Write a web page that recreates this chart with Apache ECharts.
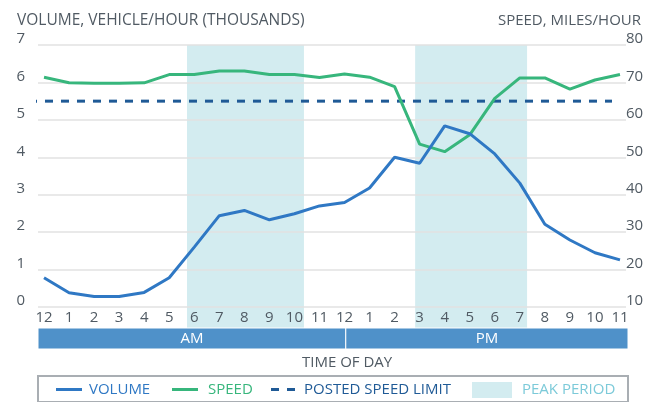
<!DOCTYPE html>
<html>
<head>
<meta charset="utf-8">
<script src="https://cdn.jsdelivr.net/npm/echarts@6/dist/echarts.min.js"></script>
<style>
  html, body { margin: 0; padding: 0; background: #fff; }
  #chart { width: 653px; height: 402px; }
</style>
</head>
<body>
<div id="chart"></div>
<script>
// hour of day, 0 = midnight
const hours = [0, 1, 2, 3, 4, 5, 6, 7, 8, 9, 10, 11, 12, 13, 14, 15, 16, 17, 18, 19, 20, 21, 22, 23]
const hourLabels = ['12', '1', '2', '3', '4', '5', '6', '7', '8', '9', '10', '11',
  '12', '1', '2', '3', '4', '5', '6', '7', '8', '9', '10', '11']
// thousands of vehicles per hour
const volume = [0.78, 0.38, 0.28, 0.28, 0.39, 0.78, 1.6, 2.44, 2.58, 2.33, 2.49, 2.7,
  2.79, 3.18, 4.0, 3.84, 4.84, 4.63, 4.09, 3.31, 2.21, 1.79, 1.45, 1.26]
// miles per hour
const speed = [71.4, 69.9, 69.8, 69.8, 69.9, 72.1, 72.1, 73.05, 73.05, 72.1, 72.1, 71.3,
  72.25, 71.4, 68.9, 53.5, 51.5, 56, 65.75, 71.2, 71.2, 68.2, 70.65, 72.1]
const postedLimit = 65
const limitSpan = [-0.48, 22.68]
const peakPeriods = [[5.71, 10.38], [14.82, 19.29]]
const dayHalves = [['AM', -0.24, 12.05], ['PM', 12.05, 23.32]]

const textColor = '#505a63'
const font = 'Open Sans'
const xMin = -0.24
const xMax = 23.24

const lineIcon = 'path://M0 0H26V3H0Z'
const dashIcon = 'path://M0 0H8V3H0Z M16 0H24V3H16Z'

const chart = echarts.init(document.getElementById('chart'))

function legendFor(name, color, left, icon, w, h, gap) {
  return {
    data: [{ name: name, icon: icon, textStyle: { color: color, padding: [0, 0, 0, gap] } }],
    left: left, top: 382, padding: 0,
    itemWidth: w, itemHeight: h,
    height: 16,
    textStyle: { fontSize: 15, fontFamily: font }
  }
}

chart.setOption({
  animation: false,
  textStyle: { fontFamily: font },
  title: [
    {
      text: 'VOLUME, VEHICLE/HOUR (THOUSANDS)',
      left: 12, top: 8,
      textStyle: { fontSize: 15.5, fontWeight: 'normal', color: textColor, fontFamily: font }
    },
    {
      text: 'SPEED, MILES/HOUR',
      right: 7, top: 8,
      textStyle: { fontSize: 15, fontWeight: 'normal', color: textColor, fontFamily: font }
    },
    {
      text: 'TIME OF DAY',
      left: 297, top: 350,
      textStyle: { fontSize: 15, fontWeight: 'normal', color: textColor, fontFamily: font }
    }
  ],
  legend: [
    legendFor('VOLUME', '#2f78c4', 56, lineIcon, 26, 3, 2),
    legendFor('SPEED', '#37b67c', 172, lineIcon, 26, 3, 5),
    legendFor('POSTED SPEED LIMIT', '#1f5a96', 271, dashIcon, 24, 3, 4),
    legendFor('PEAK PERIOD', '#7ccad9', 472, 'rect', 40, 16, 5)
  ],
  grid: [
    { left: 38, right: 27, top: 45, bottom: 95 },
    { left: 38, right: 27, top: 45, height: 283 },
    { left: 38, right: 25, top: 328, height: 21 },
    { left: 38, right: 25, top: 376, height: 40, show: true, borderColor: '#a9aeb3', borderWidth: 2 }
  ],
  xAxis: [
    {
      type: 'value',
      gridIndex: 0,
      min: xMin, max: xMax,
      axisLine: { show: false },
      axisTick: { show: false },
      splitLine: { show: false },
      axisLabel: {
        customValues: hours,
        formatter: v => hourLabels[Math.round(v)],
        color: textColor, fontSize: 15, margin: 3
      }
    },
    { type: 'value', gridIndex: 1, min: xMin, max: xMax, show: false },
    { type: 'value', gridIndex: 2, min: xMin, max: 23.32, show: false }
  ],
  yAxis: [
    {
      type: 'value',
      gridIndex: 0,
      min: 0, max: 7, interval: 1,
      axisLine: { show: false },
      axisTick: { show: false },
      splitLine: { lineStyle: { color: '#e2e2e2', width: 1.5 } },
      axisLabel: { color: textColor, fontSize: 15, margin: 13, verticalAlign: 'bottom', lineHeight: 12 }
    },
    {
      type: 'value',
      gridIndex: 0,
      position: 'right',
      min: 10, max: 80, interval: 10,
      axisLine: { show: false },
      axisTick: { show: false },
      splitLine: { show: false },
      axisLabel: { color: textColor, fontSize: 15, margin: 0, verticalAlign: 'bottom', lineHeight: 12 }
    },
    { type: 'value', gridIndex: 1, min: 0, max: 1, show: false },
    { type: 'value', gridIndex: 2, min: 0, max: 1, show: false }
  ],
  series: [
    {
      name: 'PEAK PERIOD',
      type: 'line',
      xAxisIndex: 1, yAxisIndex: 2,
      z: -1,
      silent: true,
      color: '#d3ecf0',
      itemStyle: { color: '#d3ecf0' },
      data: [],
      markArea: {
        silent: true,
        z: -1,
        itemStyle: { color: '#d3ecf0' },
        data: peakPeriods.map(p => [{ xAxis: p[0] }, { xAxis: p[1] }])
      }
    },
    {
      name: 'AMPM',
      type: 'line',
      xAxisIndex: 2, yAxisIndex: 3,
      silent: true,
      data: [],
      markArea: {
        silent: true,
        itemStyle: { color: '#4f91c9', borderColor: '#ffffff', borderWidth: 1 },
        label: { show: true, position: 'inside', color: '#ffffff', fontSize: 15, fontFamily: font },
        data: dayHalves.map(d => [{ name: d[0], xAxis: d[1] }, { xAxis: d[2] }])
      }
    },
    {
      name: 'POSTED SPEED LIMIT',
      type: 'line',
      xAxisIndex: 0, yAxisIndex: 1,
      symbol: 'none',
      clip: false,
      color: '#1f5a96',
      lineStyle: { color: '#1f5a96', width: 3, type: [8, 8], dashOffset: 3 },
      data: limitSpan.map(h => [h, postedLimit])
    },
    {
      name: 'SPEED',
      type: 'line',
      xAxisIndex: 0, yAxisIndex: 1,
      symbol: 'none',
      color: '#37b67c',
      lineStyle: { color: '#37b67c', width: 3 },
      data: hours.map((h, i) => [h, speed[i]])
    },
    {
      name: 'VOLUME',
      type: 'line',
      xAxisIndex: 0, yAxisIndex: 0,
      symbol: 'none',
      color: '#2f78c4',
      lineStyle: { color: '#2f78c4', width: 3 },
      data: hours.map((h, i) => [h, volume[i]])
    }
  ]
})
</script>
</body>
</html>
